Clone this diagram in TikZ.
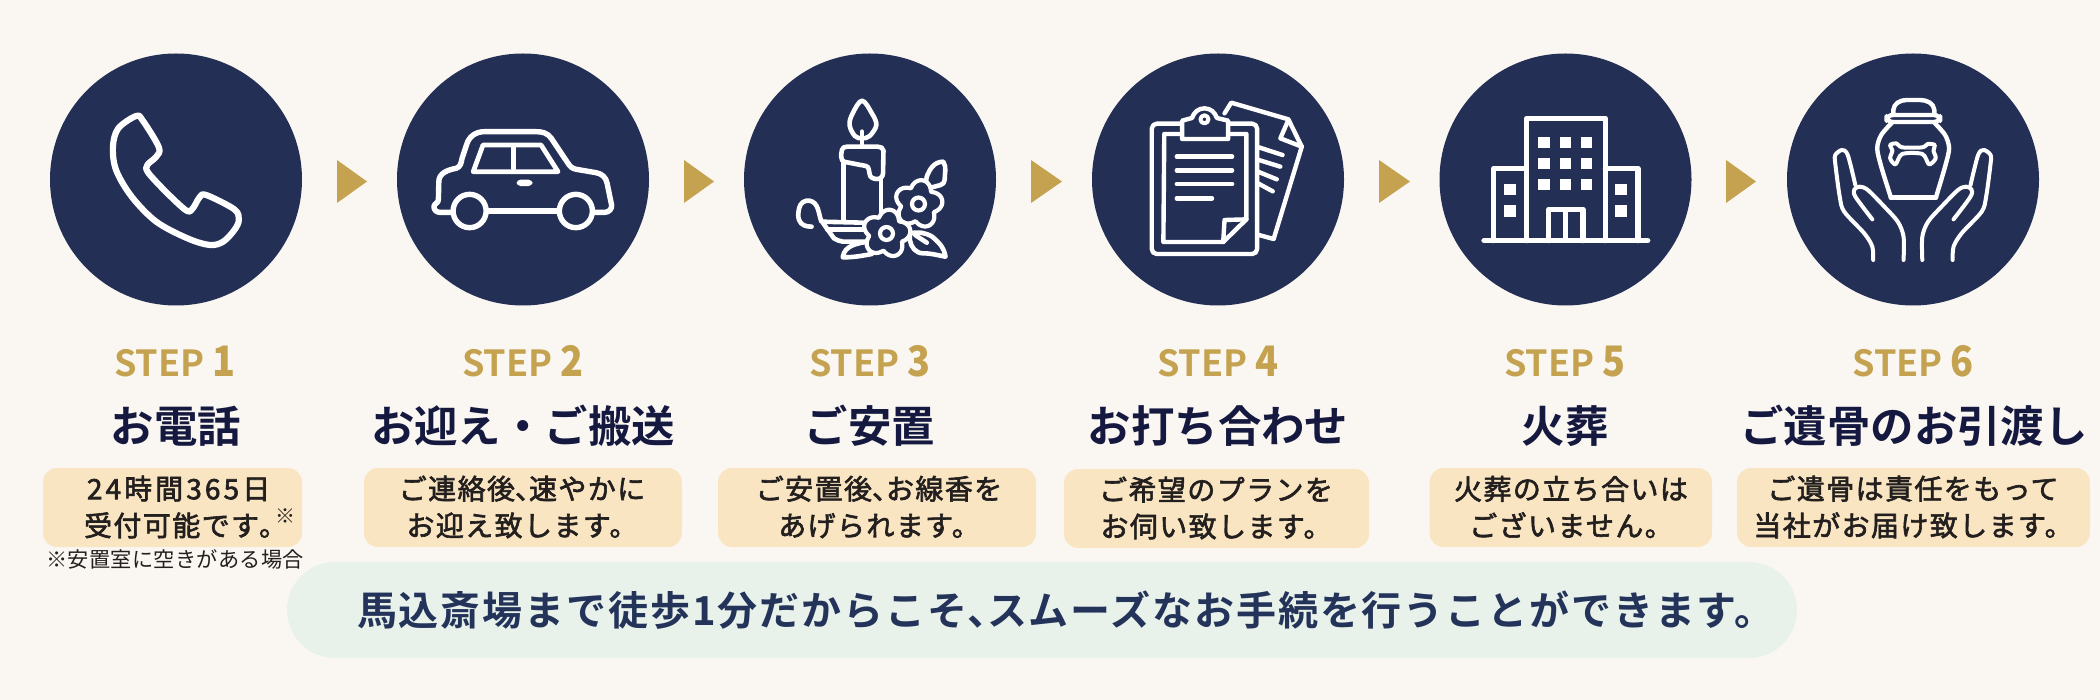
\documentclass[tikz,border=0pt]{standalone}
\usepackage{fontspec}
\setmainfont{Noto Sans CJK JP}
\newfontfamily\jpt{Noto Sans CJK JP}[BoldFont={Noto Sans CJK JP Bold}]
\newfontfamily\jpd{Noto Sans CJK JP Bold}[FakeStretch=0.9]
\newfontfamily\jpb{Noto Sans CJK JP}[LetterSpace=5]
\newfontfamily\jpw{Noto Sans CJK JP}[LetterSpace=11]
\newfontfamily\jpf{Noto Sans CJK JP}[LetterSpace=1.5]
\newfontfamily\jpm{Noto Sans CJK JP Bold}[LetterSpace=4.7]
\definecolor{bgc}{HTML}{FAF7F2}
\definecolor{navy}{HTML}{232F54}
\definecolor{gold}{HTML}{C4A24F}
\definecolor{ink}{HTML}{15193F}
\definecolor{peach}{HTML}{FAE5C3}
\definecolor{boxink}{HTML}{221F1E}
\definecolor{mint}{HTML}{E8F2EA}
\definecolor{minttext}{HTML}{24335A}
\newcommand{\halfcomma}{\hbox to .5em{、\hss}}
\newcommand{\halfstop}{\hbox to .5em{。\hss}}
\newcommand{\heavier}[1]{\special{pdf:literal direct 2 Tr #1 w}}
\newcommand{\normalweight}{\special{pdf:literal direct 0 Tr}}
\tikzset{
 disc/.style={circle,fill=navy,minimum size=126pt,inner sep=0pt},
 goldtri/.style={fill=gold},
 steplab/.style={anchor=base,text=gold,inner sep=0pt,font=\jpt\bfseries\fontsize{18}{18}\selectfont},
 steptitle/.style={anchor=base,text=ink,inner sep=0pt,font=\jpt\bfseries\fontsize{21.7}{24}\selectfont},
 notebox/.style={fill=peach,rounded corners=7pt,inner sep=0pt},
 notetext/.style={align=center,text=boxink,inner sep=0pt,font=\jpb\fontsize{14}{18.4}\selectfont},
 ico/.style={draw=white,line cap=round,line join=round,line width=#1},
 ico/.default=2.4pt,
 zm/.style 2 args={shift={(#1,#2)},x=0.22321pt,y=-0.16667pt},
}
\newcommand{\stepnum}[1]{STEP\hspace{4pt}{\jpd\fontsize{21}{21}\selectfont #1}}
\newcommand{\flowerat}[3]{%
 \draw[ico=2.1pt,fill=navy,smooth] plot[domain=0:360,samples=121]
   ({#1+#3*(0.72+0.28*abs(cos(2.5*\x+20)))*cos(\x)},{#2+#3*(0.72+0.28*abs(cos(2.5*\x+20)))*sin(\x)});
 \draw[ico=2.1pt] (#1,#2) circle[radius=6.5];
}
\begin{document}
\begin{tikzpicture}[x=0.5pt,y=-0.5pt]
\useasboundingbox (0,0) rectangle (2100,700);
\fill[bgc] (0,0) rectangle (2100,700);
% discs
\node[disc] (c1) at (176,179.5) {};
\node[disc] (c2) at (523,179.5) {};
\node[disc] (c3) at (870,179.5) {};
\node[disc] (c4) at (1218,179.5) {};
\node[disc] (c5) at (1565.5,179.5) {};
\node[disc] (c6) at (1913,179.5) {};
% arrow triangles
\fill[goldtri] (337,160) -- (367,181.5) -- (337,203) -- cycle;
\fill[goldtri] (684,160) -- (714,181.5) -- (684,203) -- cycle;
\fill[goldtri] (1031,160) -- (1062,181.5) -- (1031,203) -- cycle;
\fill[goldtri] (1379,160) -- (1410,181.5) -- (1379,203) -- cycle;
\fill[goldtri] (1726,160) -- (1756,181.5) -- (1726,203) -- cycle;
% phone
\begin{scope}[zm={0}{30}]
\draw[ico=3.1pt] plot[smooth cycle,tension=.55] coordinates{(305,258)(320,272)(356,352)(350,380)(330,405)(332,428)(375,490)(418,542)(432,535)(447,502)(462,495)(525,538)(535,570)(525,600)(500,635)(470,645)(420,625)(350,575)(295,500)(260,420)(253,350)(265,295)};
% car
\draw[ico=2.7pt] (1012,547) -- (985,547) to[out=180,in=-90] (972,530) to[out=90,in=-90] (982,510) -- (983,455) to[out=90,in=190] (1022,415) to[out=20,in=-100] (1035,385) -- (1045,345) to[out=75,in=180] (1085,305) -- (1200,305) to[out=0,in=125] (1235,325) -- (1275,405) to[out=-55,in=170] (1300,420) -- (1335,428) to[out=-10,in=100] (1360,460) -- (1370,525) to[out=-80,in=0] (1355,547) -- (1332,547);
\draw[ico=2.7pt] (1095,543) -- (1250,543);
\draw[ico=2.7pt] (1052,543) ellipse[x radius=37,y radius=50];
\draw[ico=2.7pt] (1290,543) ellipse[x radius=37,y radius=50];
\draw[ico=2.4pt] (1060,425) -- (1082,345) -- (1212,345) -- (1250,425) -- cycle;
\draw[ico=2.4pt] (1150,350) -- (1150,415);
\fill[white,rounded corners=2pt] (1157,449) rectangle (1193,468);
\end{scope}
% candle
\begin{scope}[zm={700}{30}]
\draw[ico=2.3pt] plot[smooth cycle,tension=.6] coordinates{(363,212)(385,250)(395,285)(380,318)(363,325)(347,318)(335,285)(342,250)};
\draw[ico=2.3pt] (363,345) -- (363,305);
\draw[ico=2.3pt] (322,395) -- (322,575);
\draw[ico=2.3pt] (405,450) -- (405,545);
\draw[ico=2.3pt] (322,395) to[out=180,in=90] (316,375) to (318,360) to[out=90,in=180] (330,350) -- (398,350) to[out=0,in=90] (411,362) -- (410,430) to[out=-90,in=0] (397,447) to[out=180,in=-90] (380,432) -- (378,418) to[out=90,in=-10] (360,405) -- (322,395);
\draw[ico=2.3pt] (250,590) to[out=180,in=-70] (222,570) to[out=110,in=-100] (222,535) to[out=80,in=170] (245,512) to[out=-10,in=110] (272,575) -- (365,578);
\draw[ico=2.3pt] (275,578) -- (300,625) to[out=-30,in=170] (320,635) -- (375,635);
\draw[ico=2.3pt] (285,598) -- (370,598);
\draw[ico=2.3pt,fill=navy] (320,680) to[out=80,in=190] (375,635) -- (385,672) to[out=190,in=0] (320,682) -- cycle;
\draw[ico=2.3pt,fill=navy] (470,610) to[out=10,in=150] (520,620) to[out=-40,in=100] (550,680) to[out=170,in=0] (500,670) to[out=180,in=-80] (470,630) -- cycle;
\draw[ico=2.3pt] (482,615) -- (508,638);
\draw[ico=2.3pt,fill=navy] (510,470) to[out=130,in=-100] (508,440) to[out=70,in=180] (545,395) to[out=-60,in=90] (548,450) to[out=-90,in=20] (520,472) -- cycle;
\end{scope}
\flowerat{918.5}{204}{24}
\flowerat{886.5}{233.5}{24}
% clipboard
\begin{scope}[zm={700}{30}]
\draw[ico=2.2pt] (1175,250) -- (1190,218) -- (1318,268) -- (1348,350) -- (1285,627) -- (1252,615);
\draw[ico=2.2pt] (1318,270) -- (1300,325) -- (1348,350);
\draw[ico=2.2pt] (1252,352) -- (1305,375);
\draw[ico=2.2pt] (1252,390) -- (1300,410);
\draw[ico=2.2pt] (1250,425) -- (1292,448);
\draw[ico=2.2pt] (1250,460) -- (1283,484);
\draw[ico=2.2pt,fill=navy,rounded corners=2.5pt] (1012,281) rectangle (1248,672);
\draw[ico=2.2pt] (1040,312) -- (1224,312) -- (1224,568) -- (1172,636) -- (1038,636) -- cycle;
\draw[ico=2.2pt] (1224,568) -- (1175,570) -- (1172,636);
\draw[ico=2.2pt,fill=navy] (1080,327) -- (1080,272) -- (1102,264) to[out=70,in=180] (1130,235) to[out=0,in=110] (1158,264) -- (1183,272) -- (1183,327) -- cycle;
\draw[ico=2pt] (1130,268) ellipse[x radius=9,y radius=12];
\draw[ico=2.2pt] (1068,380) -- (1192,380);
\draw[ico=2.2pt] (1068,421) -- (1192,421);
\draw[ico=2.2pt] (1068,462) -- (1192,462);
\draw[ico=2.2pt] (1068,505) -- (1147,505);
\end{scope}
% building
\begin{scope}[zm={1400}{30}]
\draw[ico=2.6pt] (188,632) -- (555,632);
\draw[ico=2.6pt] (283,632) -- (283,265) -- (460,265) -- (460,632);
\draw[ico=2.6pt] (283,415) -- (210,415) -- (210,632);
\draw[ico=2.6pt] (460,415) -- (533,415) -- (533,632);
\draw[ico=2.6pt] (333,632) -- (333,538) -- (410,538) -- (410,632);
\draw[ico=2.6pt] (371,545) -- (371,630);
\foreach \yy in {338,401,464}{\foreach \xx in {323,371,418}{
 \fill[white] (\xx-13,\yy-17) rectangle (\xx+13,\yy+17);}}
\foreach \yy in {479,543}{\foreach \xx in {246,495}{
 \fill[white] (\xx-13,\yy-17) rectangle (\xx+13,\yy+17);}}
% urn and hands
\draw[ico=2.2pt] (1105,255) -- (1105,240) to[out=85,in=180] (1135,210) -- (1165,210) to[out=0,in=95] (1197,240) -- (1197,255);
\draw[ico=2.2pt,rounded corners=3pt] (1090,255) rectangle (1210,276);
\draw[ico=2.2pt] plot[smooth,tension=.5] coordinates{(1102,278)(1078,315)(1069,355)(1078,410)(1099,500)};
\draw[ico=2.2pt] plot[smooth,tension=.5] coordinates{(1197,278)(1221,315)(1230,355)(1221,410)(1201,500)};
\draw[ico=2.2pt] (1099,503) -- (1201,503);
\draw[ico=2pt] plot[smooth cycle,tension=.5] coordinates{(1125,352)(1170,352)(1182,342)(1198,345)(1195,362)(1200,385)(1185,403)(1170,372)(1125,372)(1110,403)(1098,385)(1103,362)(1098,345)(1112,340)};
\draw[ico=2pt] plot[smooth,tension=.5] coordinates{(1060,690)(1058,650)(1040,610)(995,545)(985,500)(975,400)(975,375)(990,360)(1003,375)(1020,465)};
\draw[ico=2pt] plot[smooth,tension=.5] coordinates{(1058,568)(1020,500)(1018,478)(1030,470)(1048,480)(1085,530)(1115,575)(1128,620)(1128,690)};
\draw[ico=2pt] plot[smooth,tension=.5] coordinates{(1238,690)(1240,650)(1258,610)(1303,545)(1313,500)(1323,400)(1323,375)(1308,360)(1295,375)(1278,465)};
\draw[ico=2pt] plot[smooth,tension=.5] coordinates{(1240,568)(1278,500)(1280,478)(1268,470)(1250,480)(1213,530)(1183,575)(1170,620)(1170,690)};
\end{scope}
% step labels
\node[steplab] (s1) at (175,377) {\stepnum{1}};
\node[steplab] (s2) at (523,377) {\stepnum{2}};
\node[steplab] (s3) at (870,377) {\stepnum{3}};
\node[steplab] (s4) at (1218,377) {\stepnum{4}};
\node[steplab] (s5) at (1565,377) {\stepnum{5}};
\node[steplab] (s6) at (1913,377) {\stepnum{6}};
% titles
\node[steptitle] (t1) at (176,443) {お電話};
\node[steptitle] (t2) at (523,443) {お迎え・ご搬送};
\node[steptitle] (t3) at (870,443) {ご安置};
\node[steptitle] (t4) at (1218,443) {お打ち合わせ};
\node[steptitle] (t5) at (1565,443) {火葬};
\node[steptitle] (t6) at (1914,443) {ご遺骨のお引渡し};
% peach boxes
\fill[notebox] (43,468) rectangle (302,547);
\fill[notebox] (364,468) rectangle (682,547);
\fill[notebox] (718,468) rectangle (1036,547);
\fill[notebox] (1064,469) rectangle (1369,548);
\fill[notebox] (1429.5,468) rectangle (1712,547);
\fill[notebox] (1737,468) rectangle (2090,547);
\node[notetext] (n1) at (178.6,507) {\heavier{0.3}{\jpw 24時間365日}\\\heavier{0.3}受付可能です\halfstop\normalweight};
\node[text=boxink,inner sep=0pt,font=\jpf\fontsize{10}{10}\selectfont] (n1s) at (285,516) {※};
\node[notetext] (n2) at (522,507) {\heavier{0.3}ご連絡後\halfcomma 速やかに\\\heavier{0.3}お迎え致します。\normalweight};
\node[notetext] (n3) at (879,507) {\heavier{0.3}ご安置後\halfcomma お線香を\\\heavier{0.3}あげられます。\normalweight};
\node[notetext] (n4) at (1216,508) {\heavier{0.3}ご希望のプランを\\\heavier{0.3}お伺い致します。\normalweight};
\node[notetext] (n5) at (1571,507) {\heavier{0.3}火葬の立ち合いは\\\heavier{0.3}ございません。\normalweight};
\node[notetext] (n6) at (1913,507) {\heavier{0.3}ご遺骨は責任をもって\\\heavier{0.3}当社がお届け致します。\normalweight};
\node[text=boxink,inner sep=0pt,font=\jpf\fontsize{10.6}{12}\selectfont] (foot) at (175,559) {※安置室に空きがある場合};
% pill
\fill[mint,rounded corners=24pt] (287,562) rectangle (1797,658);
\node[text=minttext,inner sep=0pt,font=\jpm\fontsize{20}{24}\selectfont] (pill) at (1066,610) {馬込斎場まで徒歩1分だからこそ\halfcomma スムーズなお手続を行うことができます。};
\end{tikzpicture}
\end{document}
